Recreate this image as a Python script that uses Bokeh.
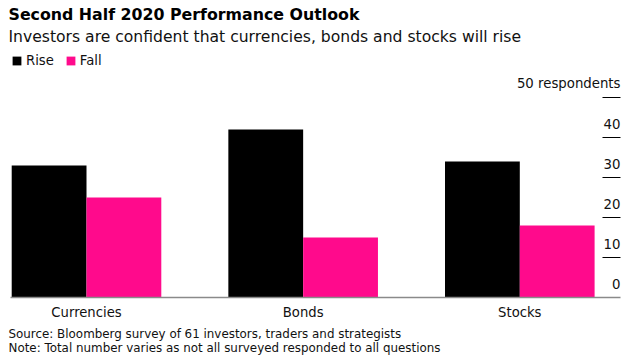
from bokeh.plotting import figure
from bokeh.models import (Range1d, Label, Legend, LegendItem, ColumnDataSource)
from bokeh.core.properties import value
from bokeh.embed import file_html
from bokeh.resources import INLINE

# ---- data ----
categories = ["Currencies", "Bonds", "Stocks"]
rise = [33, 42, 34]
fall = [25, 15, 18]
y_ticks = [0, 10, 20, 30, 40, 50]
y_tick_labels = ["0", "10", "20", "30", "40", "50 respondents"]

title_text = "Second Half 2020 Performance Outlook"
subtitle_text = "Investors are confident that currencies, bonds and stocks will rise"
source_text = "Source: Bloomberg survey of 61 investors, traders and strategists"
note_text = "Note: Total number varies as not all surveyed responded to all questions"

# ---- style / layout (pixels) ----
FONT = "DejaVu Sans"
BLACK = "#000000"
PINK = "#ff0a8c"
TEXT = "#111111"
AXIS = "#8a8a8a"

W, H = 636, 362
PLOT_L, PLOT_R = 10, 620        # horizontal extent of the chart area
ZERO_Y = 297                    # pixel row of value 0
PX_PER_UNIT = 4.0               # vertical pixels per respondent
CAT0_X, CAT_STEP = 86, 216.65   # pixel centre of first category, spacing
TICK_LEN = 18

# scales: the figure frame covers the whole canvas
def px_to_x(px):
    return (px - CAT0_X) / CAT_STEP

x_start, x_end = px_to_x(0), px_to_x(W)
y_start, y_end = -(H - ZERO_Y) / PX_PER_UNIT, ZERO_Y / PX_PER_UNIT

idx = list(range(len(categories)))
bw = 74.8 / CAT_STEP
off = bw / 2

src = ColumnDataSource(dict(
    x_rise=[i - off for i in idx],
    x_fall=[i + off for i in idx],
    rise=rise, fall=fall))

p = figure(width=W, height=H, x_range=Range1d(x_start, x_end),
           y_range=Range1d(y_start, y_end), output_backend="svg",
           toolbar_location=None, x_axis_location=None,
           y_axis_location=None, min_border=0)
p.outline_line_color = None
p.grid.visible = False
p.background_fill_color = "white"

r1 = p.vbar(x="x_rise", top="rise", width=bw, source=src,
            fill_color=BLACK, line_color=None)
r2 = p.vbar(x="x_fall", top="fall", width=bw, source=src,
            fill_color=PINK, line_color=None)

# baseline (value 0)
p.segment(x0=[px_to_x(PLOT_L)], x1=[px_to_x(PLOT_R)], y0=[0], y1=[0],
          line_color=AXIS, line_width=1.5)

# short tick marks at the right edge
n = len(y_ticks) - 1
tk_src = ColumnDataSource(dict(x0=[px_to_x(PLOT_R - TICK_LEN)] * n,
                               x1=[px_to_x(PLOT_R)] * n,
                               y=y_ticks[1:]))
p.segment(x0="x0", x1="x1", y0="y", y1="y", source=tk_src,
          line_color=BLACK, line_width=1)

# value labels sitting above the tick marks
lab_src = ColumnDataSource(dict(x=[px_to_x(PLOT_R)] * len(y_ticks),
                                y=y_ticks, text=y_tick_labels))
p.text(x="x", y="y", text="text", source=lab_src, text_align="right",
       text_baseline="alphabetic", y_offset=-14,
       text_font=value(FONT), text_font_size="13.3px", text_color=TEXT)

# category labels under the baseline
cat_src = ColumnDataSource(dict(x=idx, y=[0] * len(idx), text=categories))
p.text(x="x", y="y", text="text", source=cat_src, text_align="center",
       text_baseline="alphabetic", y_offset=14.5,
       text_font=value(FONT), text_font_size="13.2px", text_color=TEXT)

# legend
legend = Legend(items=[LegendItem(label="Rise", renderers=[r1]),
                       LegendItem(label="Fall", renderers=[r2])],
                orientation="horizontal", location=(11, H - 56.5 - 11),
                glyph_width=11, glyph_height=11, label_height=11,
                label_standoff=4, spacing=11, padding=0, margin=0,
                border_line_color=None, background_fill_alpha=0,
                label_text_font=FONT, label_text_font_size="13.2px",
                label_text_color=TEXT)
p.add_layout(legend)

# title, subtitle and footer (x, baseline y in page pixels)
def page_label(text, x, baseline_y, size, style="normal", color=TEXT):
    return Label(text=text, x=x, y=H - baseline_y,
                 x_units="screen", y_units="screen",
                 text_font=FONT, text_font_size=size, text_font_style=style,
                 text_color=color, text_baseline="alphabetic",
                 text_align="left")

p.add_layout(page_label(title_text, 8, 14.3, "15.8px", "bold", BLACK))
p.add_layout(page_label(subtitle_text, 8, 36.0, "15.6px"))
p.add_layout(page_label(source_text, 8, 333.7, "11.9px"))
p.add_layout(page_label(note_text, 8, 347.5, "11.9px"))

open("out.html", "w").write(file_html(p, INLINE))
